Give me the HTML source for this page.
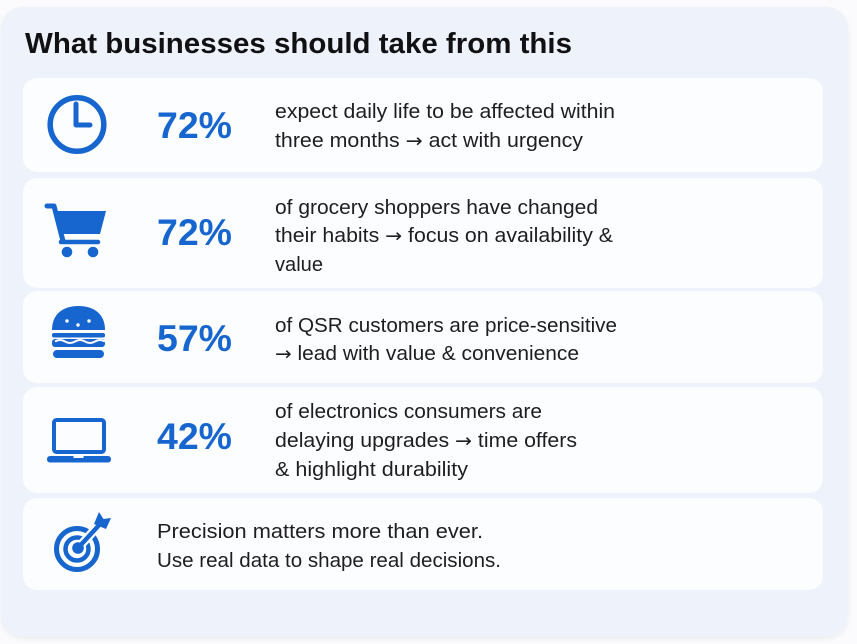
<!DOCTYPE html>
<html>
<head>
<meta charset="utf-8">
<style>
  html,body{margin:0;padding:0;background:#fbfbfd;}
  svg{display:block;}
  .b{font-family:"Liberation Sans",sans-serif;font-size:20px;fill:#1e1e22;}
  .p{font-family:"Liberation Sans",sans-serif;font-size:37px;font-weight:bold;fill:#1766cf;}
  .ar{font-family:"DejaVu Sans",sans-serif;font-size:19px;}
</style>
</head>
<body>
<svg width="857" height="644" viewBox="0 0 857 644" xmlns="http://www.w3.org/2000/svg">
  <defs>
    <filter id="sh" x="-5%" y="-5%" width="110%" height="110%">
      <feGaussianBlur in="SourceAlpha" stdDeviation="3"/>
      <feOffset dy="2"/>
      <feComponentTransfer><feFuncA type="linear" slope="0.06"/></feComponentTransfer>
      <feMerge><feMergeNode/><feMergeNode in="SourceGraphic"/></feMerge>
    </filter>
  </defs>
  <rect x="0" y="0" width="857" height="644" fill="#fbfbfd"/>
  <rect x="1" y="7" width="847" height="630" rx="22" fill="#eef2fa" filter="url(#sh)"/>

  <text x="25" y="53" font-family="Liberation Sans, sans-serif" font-size="29" font-weight="bold" fill="#111114" textLength="547" lengthAdjust="spacingAndGlyphs">What businesses should take from this</text>

  <!-- cards -->
  <rect x="23" y="78" width="800" height="94" rx="14" fill="#fcfdff"/>
  <rect x="23" y="178" width="800" height="110" rx="14" fill="#fcfdff"/>
  <rect x="23" y="291" width="800" height="92" rx="14" fill="#fcfdff"/>
  <rect x="23" y="387" width="800" height="106" rx="14" fill="#fcfdff"/>
  <rect x="23" y="498" width="800" height="92" rx="14" fill="#fcfdff"/>

  <!-- card 1: clock -->
  <circle cx="77" cy="124.5" r="26.8" fill="none" stroke="#1766cf" stroke-width="5.5"/>
  <path d="M76 104 V125 H90" fill="none" stroke="#1766cf" stroke-width="5" stroke-linecap="round" stroke-linejoin="round"/>
  <text class="p" x="157" y="138" textLength="75" lengthAdjust="spacingAndGlyphs">72%</text>
  <text class="b" x="275" y="118" textLength="340" lengthAdjust="spacingAndGlyphs">expect daily life to be affected within</text>
  <text class="b" x="275" y="147" textLength="308" lengthAdjust="spacingAndGlyphs">three months <tspan class="ar">→</tspan> act with urgency</text>

  <!-- card 2: cart -->
  <path d="M47 206 H54 L63 241" fill="none" stroke="#1766cf" stroke-width="5" stroke-linecap="round" stroke-linejoin="round"/>
  <polygon points="56,211 106,211 100,234 62,234" fill="#1766cf"/>
  <path d="M61 242 H98" stroke="#1766cf" stroke-width="4.5" stroke-linecap="round"/>
  <circle cx="67" cy="252" r="5.3" fill="#1766cf"/>
  <circle cx="93" cy="252" r="5.3" fill="#1766cf"/>
  <text class="p" x="157" y="245" textLength="75" lengthAdjust="spacingAndGlyphs">72%</text>
  <text class="b" x="275" y="214" textLength="323" lengthAdjust="spacingAndGlyphs">of grocery shoppers have changed</text>
  <text class="b" x="275" y="242" textLength="338" lengthAdjust="spacingAndGlyphs">their habits <tspan class="ar">→</tspan> focus on availability &amp;</text>
  <text class="b" x="275" y="271" textLength="48" lengthAdjust="spacingAndGlyphs">value</text>

  <!-- card 3: burger -->
  <path d="M52 330 C52 314 63 306 78.5 306 C94 306 105 314 105 330 Z" fill="#1766cf"/>
  <circle cx="67" cy="321" r="1.7" fill="#fcfdff"/>
  <circle cx="78" cy="325" r="1.7" fill="#fcfdff"/>
  <circle cx="89" cy="321" r="1.7" fill="#fcfdff"/>
  <rect x="52" y="333" width="53" height="4.5" rx="2" fill="#1766cf"/>
  <rect x="52" y="339" width="53" height="8" rx="3" fill="#1766cf"/>
  <path d="M55 341.5 q5 -3 10 0 t10 0 t10 0 t10 0 t10 0" fill="none" stroke="#fcfdff" stroke-width="2"/>
  <rect x="53" y="350" width="51" height="8" rx="4" fill="#1766cf"/>
  <text class="p" x="157" y="351" textLength="75" lengthAdjust="spacingAndGlyphs">57%</text>
  <text class="b" x="275" y="332" textLength="342" lengthAdjust="spacingAndGlyphs">of QSR customers are price-sensitive</text>
  <text class="b" x="275" y="360" textLength="304" lengthAdjust="spacingAndGlyphs"><tspan class="ar">→</tspan> lead with value &amp; convenience</text>

  <!-- card 4: laptop -->
  <rect x="54" y="420" width="50" height="32" rx="2.5" fill="none" stroke="#1766cf" stroke-width="4"/>
  <rect x="47" y="456" width="64" height="6.5" rx="3" fill="#1766cf"/>
  <rect x="73.5" y="456" width="10" height="2" fill="#fcfdff"/>
  <text class="p" x="157" y="449" textLength="75" lengthAdjust="spacingAndGlyphs">42%</text>
  <text class="b" x="275" y="418" textLength="267" lengthAdjust="spacingAndGlyphs">of electronics consumers are</text>
  <text class="b" x="275" y="447" textLength="302" lengthAdjust="spacingAndGlyphs">delaying upgrades <tspan class="ar">→</tspan> time offers</text>
  <text class="b" x="275" y="476" textLength="193" lengthAdjust="spacingAndGlyphs">&amp; highlight durability</text>

  <!-- card 5: target -->
  <circle cx="77" cy="549" r="20.5" fill="none" stroke="#1766cf" stroke-width="5"/>
  <circle cx="77" cy="549" r="11.5" fill="none" stroke="#1766cf" stroke-width="4.5"/>
  <line x1="78" y1="548" x2="99" y2="525" stroke="#fcfdff" stroke-width="9"/>
  <circle cx="78" cy="548" r="5.8" fill="#1766cf"/>
  <line x1="78" y1="548" x2="101" y2="523" stroke="#1766cf" stroke-width="4.5" stroke-linecap="round"/>
  <polygon points="94,524 99,512 103.5,519 111,518 106,529" fill="#1766cf"/>
  <text class="b" x="157" y="538" textLength="326" lengthAdjust="spacingAndGlyphs">Precision matters more than ever.</text>
  <text class="b" x="157" y="567" textLength="344" lengthAdjust="spacingAndGlyphs">Use real data to shape real decisions.</text>
</svg>
</body>
</html>
